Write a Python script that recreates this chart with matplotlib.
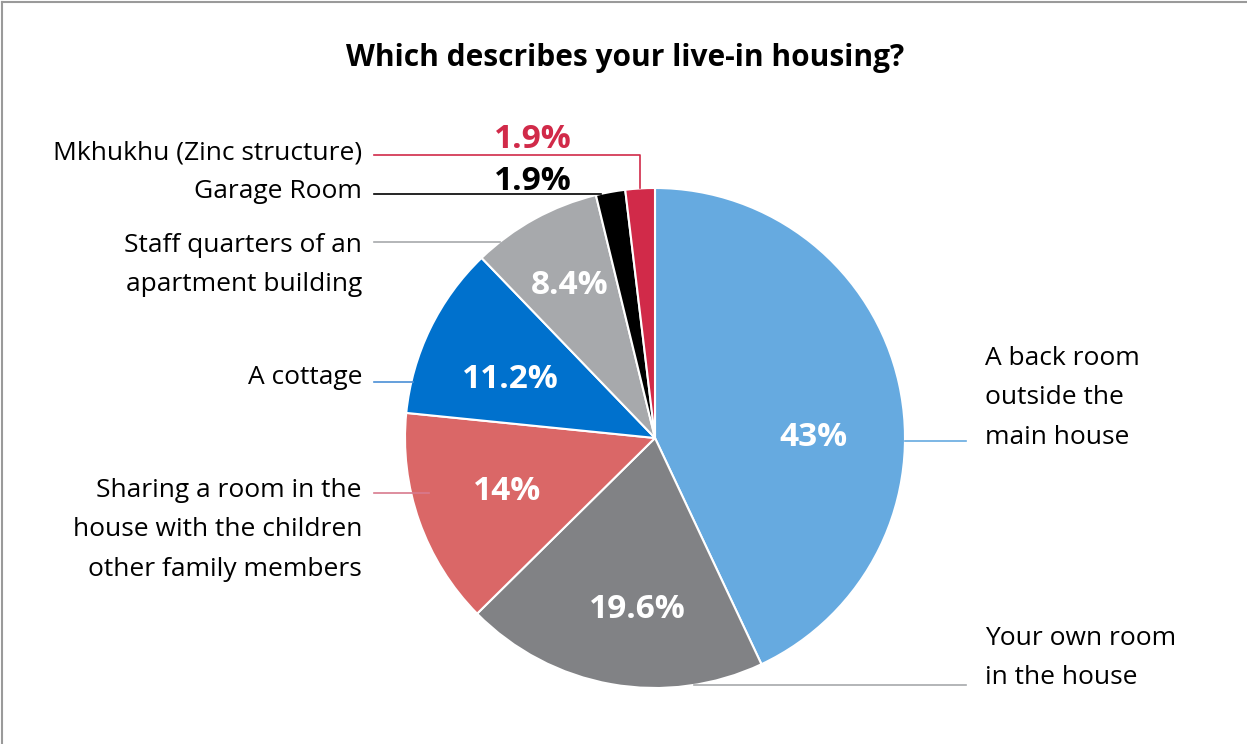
import matplotlib
matplotlib.use("Agg")
import matplotlib.pyplot as plt
import numpy as np

# ---- data ----
categories = [
    "A back room\noutside the\nmain house",
    "Your own room\nin the house",
    "Sharing a room in the\nhouse with the children\nother family members",
    "A cottage",
    "Staff quarters of an\napartment building",
    "Garage Room",
    "Mkhukhu (Zinc structure)",
]
values = [43, 19.6, 14, 11.2, 8.4, 1.9, 1.9]
pct_labels = ["43%", "19.6%", "14%", "11.2%", "8.4%", "1.9%", "1.9%"]
colors = ["#66AAE0", "#818285", "#DA6767", "#0071CD", "#A7A9AC", "#000000", "#D12A49"]
title = "Which describes your live-in housing?"

W, H = 1247, 744
fig = plt.figure(figsize=(W / 100, H / 100), dpi=100)
ax = fig.add_axes([0, 0, 1, 1])
ax.set_xlim(0, W)
ax.set_ylim(0, H)
ax.set_aspect("equal")
ax.axis("off")

def Y(p):
    return H - p

cx, cy, R = 655, 438, 250
ax.pie(values, colors=colors, startangle=90, counterclock=False,
       center=(cx, Y(cy)), radius=R,
       wedgeprops=dict(edgecolor="white", linewidth=1.5))
ax.set_xlim(0, W)
ax.set_ylim(0, H)

font = "Open Sans"
lab_fs = 19
pct_fs = 24
ls = 1.78

def edge_x(py, side):
    dy = py - cy
    dx = np.sqrt(R * R - dy * dy)
    return cx + side * dx

# percent labels (white inside)
pct_pos = {0: (813, 438), 1: (637, 610), 2: (507, 491), 3: (510, 380), 4: (570, 285)}
for i, (px, py) in pct_pos.items():
    ax.text(px, Y(py), pct_labels[i], color="white", fontsize=pct_fs,
            fontweight="bold", family=font, ha="center", va="center")
# small slice labels outside
ax.text(533, Y(181), pct_labels[5], color=colors[5], fontsize=pct_fs,
        fontweight="bold", family=font, ha="center", va="center")
ax.text(533, Y(140), pct_labels[6], color=colors[6], fontsize=pct_fs,
        fontweight="bold", family=font, ha="center", va="center")

# leader lines + category labels
lx_left = 374
# Mkhukhu
ang = np.deg2rad(90 - 360 * (sum(values[:6]) + values[6] / 2) / 100)
mx = cx + R * np.cos(ang)
my = cy - R * np.sin(ang)
ax.plot([lx_left, mx, mx], [Y(155), Y(155), Y(my)], color=colors[6], lw=1.2)
ax.text(362, Y(153), categories[6], fontsize=lab_fs, family=font, ha="right", va="center")
# Garage
ax.plot([lx_left, edge_x(194, -1)], [Y(194), Y(194)], color="black", lw=1.2)
ax.text(362, Y(191), categories[5], fontsize=lab_fs, family=font, ha="right", va="center")
# Staff quarters
ax.plot([lx_left, edge_x(242, -1)], [Y(242), Y(242)], color="#A7A9AC", lw=1.2)
ax.text(362, Y(265), categories[4], fontsize=lab_fs, family=font, ha="right", va="center",
        linespacing=ls)
# Cottage
ax.plot([lx_left, edge_x(382, -1) + 2], [Y(382), Y(382)], color="#4A8FD6", lw=1.2)
ax.text(362, Y(377), categories[3], fontsize=lab_fs, family=font, ha="right", va="center")
# Sharing
ax.plot([lx_left, edge_x(493, -1) + 18], [Y(493), Y(493)], color="#D87A8E", lw=1.2)
ax.text(362, Y(530), categories[2], fontsize=lab_fs, family=font, ha="right", va="center",
        linespacing=ls)
# Back room
ax.plot([edge_x(441, 1), 966], [Y(441), Y(441)], color="#66AAE0", lw=1.2)
ax.text(985, Y(398), categories[0], fontsize=lab_fs, family=font, ha="left", va="center",
        linespacing=ls)
# Your own room
ax.plot([edge_x(685, 1), 966], [Y(685), Y(685)], color="#A7A9AC", lw=1.2)
ax.text(985, Y(658), categories[1], fontsize=lab_fs, family=font, ha="left", va="center",
        linespacing=ls)

# title
ax.text(625, Y(58), title, fontsize=21.5, fontweight="bold", family=font,
        ha="center", va="center")

# frame lines (top and left)
ax.plot([1.5, W], [Y(2), Y(2)], color="#9A9A9A", lw=1.5, clip_on=False)
ax.plot([1.5, 1.5], [0, Y(2)], color="#9A9A9A", lw=1.5, clip_on=False)

fig.savefig("out.png", dpi=100, facecolor="white")
